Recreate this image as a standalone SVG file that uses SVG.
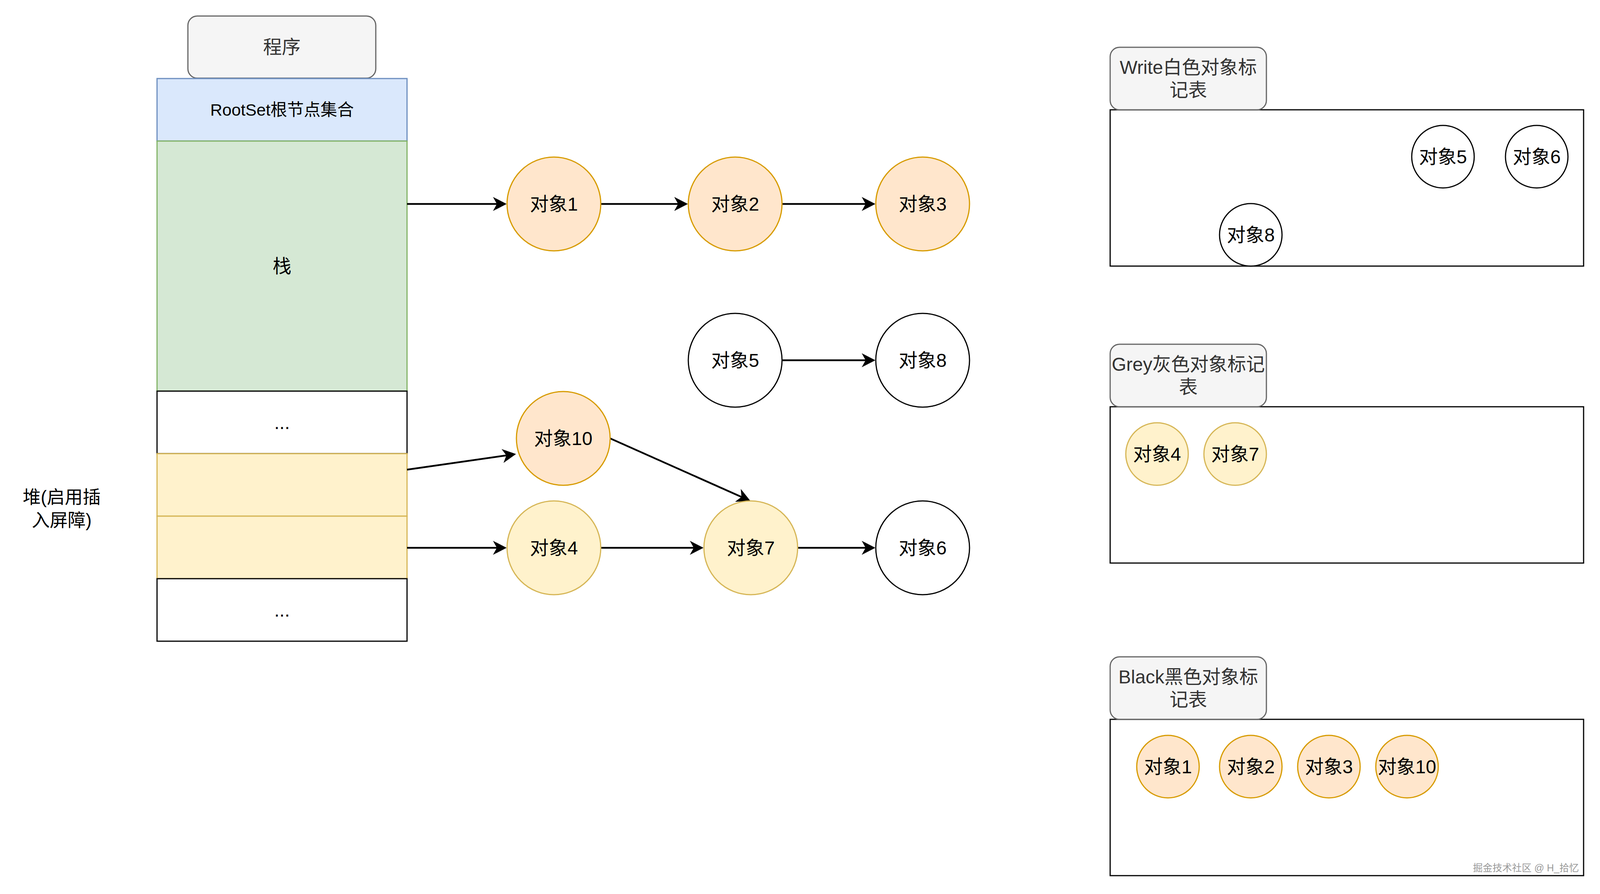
<svg xmlns="http://www.w3.org/2000/svg" width="4284" height="2288" viewBox="0 0 4284 2288">
<style>
text{font-family:"Liberation Sans","Noto Sans CJK SC",sans-serif;font-size:48px;text-anchor:middle;dominant-baseline:central;fill:#000}
.lbl{fill:#333}
.gray{fill:#f5f5f5;stroke:#666;stroke-width:3}
.blue{fill:#dae8fc;stroke:#6c8ebf;stroke-width:3}
.green{fill:#d5e8d4;stroke:#82b366;stroke-width:3}
.plain{fill:#fff;stroke:#000;stroke-width:3}
.yel{fill:#fff2cc;stroke:#d6b656;stroke-width:3}
.org{fill:#ffe6cc;stroke:#d79b00;stroke-width:3}
.edge{fill:none;stroke:#000;stroke-width:4.5}
</style>
<defs>
<marker id="arr" viewBox="0 0 35 36" refX="10" refY="18" markerWidth="35" markerHeight="36" markerUnits="userSpaceOnUse" orient="auto">
<path d="M0,0 L35,18 L0,36 L10,18 Z" fill="#000"/>
</marker>
</defs>
<rect width="4284" height="2288" fill="#fff"/>

<g id="program"><rect class="gray" x="481" y="41" width="481" height="159" rx="24"/><text class="lbl" x="721.5" y="120">程序</text></g>
<g id="rootset"><rect class="blue" x="402" y="201" width="640" height="160"/><text x="722" y="281" style="font-size:42.7px">RootSet根节点集合</text></g>
<g id="stack"><rect class="green" x="402" y="361" width="640" height="640"/><text x="722" y="681">栈</text></g>
<g id="heap-dots1"><rect class="plain" x="402" y="1001" width="640" height="160"/><text x="722" y="1081">...</text></g>
<g id="heap-slot1"><rect class="yel" x="402" y="1161" width="640" height="160"/></g>
<g id="heap-slot2"><rect class="yel" x="402" y="1321" width="640" height="160"/></g>
<g id="heap-dots2"><rect class="plain" x="402" y="1481" width="640" height="160"/><text x="722" y="1561">...</text></g>
<g id="heap-label"><text x="158" y="1272" style="font-size:46px">堆(启用插</text><text x="158" y="1331" style="font-size:46px">入屏障)</text></g>

<g id="connectors">
<path class="edge" d="M1042,522 L1272,522" marker-end="url(#arr)"/>
<path class="edge" d="M1538,522 L1736,522" marker-end="url(#arr)"/>
<path class="edge" d="M2002,522 L2216,522" marker-end="url(#arr)"/>
<path class="edge" d="M2002,922 L2216,922" marker-end="url(#arr)"/>
<path class="edge" d="M1042,1202 L1296.3,1165.5" marker-end="url(#arr)"/>
<path class="edge" d="M1562,1122 L1898.2,1271.8" marker-end="url(#arr)"/>
<path class="edge" d="M1042,1402 L1272,1402" marker-end="url(#arr)"/>
<path class="edge" d="M1538,1402 L1776,1402" marker-end="url(#arr)"/>
<path class="edge" d="M2042,1402 L2216,1402" marker-end="url(#arr)"/>
</g>

<g id="obj1"><circle class="org" cx="1418" cy="522" r="120"/><text x="1418" y="522">对象1</text></g>
<g id="obj2"><circle class="org" cx="1882" cy="522" r="120"/><text x="1882" y="522">对象2</text></g>
<g id="obj3"><circle class="org" cx="2362" cy="522" r="120"/><text x="2362" y="522">对象3</text></g>
<g id="obj5"><circle class="plain" cx="1882" cy="922" r="120"/><text x="1882" y="922">对象5</text></g>
<g id="obj8"><circle class="plain" cx="2362" cy="922" r="120"/><text x="2362" y="922">对象8</text></g>
<g id="obj10"><circle class="org" cx="1442" cy="1122" r="120"/><text x="1442" y="1122">对象10</text></g>
<g id="obj4"><circle class="yel" cx="1418" cy="1402" r="120"/><text x="1418" y="1402">对象4</text></g>
<g id="obj7"><circle class="yel" cx="1922" cy="1402" r="120"/><text x="1922" y="1402">对象7</text></g>
<g id="obj6"><circle class="plain" cx="2362" cy="1402" r="120"/><text x="2362" y="1402">对象6</text></g>

<g id="white-table">
<rect class="plain" x="2842" y="281" width="1212" height="400"/>
<rect class="gray" x="2842" y="121" width="400" height="160" rx="24"/>
<text class="lbl" x="3042" y="172">Write白色对象标</text><text class="lbl" x="3042" y="230">记表</text>
<circle class="plain" cx="3694" cy="401" r="80"/><text x="3694" y="401">对象5</text>
<circle class="plain" cx="3934" cy="401" r="80"/><text x="3934" y="401">对象6</text>
<circle class="plain" cx="3202" cy="601" r="80"/><text x="3202" y="601">对象8</text>
</g>

<g id="grey-table">
<rect class="plain" x="2842" y="1041" width="1212" height="400"/>
<rect class="gray" x="2842" y="881" width="400" height="160" rx="24"/>
<text class="lbl" x="3042" y="932">Grey灰色对象标记</text><text class="lbl" x="3042" y="990">表</text>
<circle class="yel" cx="2962" cy="1162" r="80"/><text x="2962" y="1162">对象4</text>
<circle class="yel" cx="3162" cy="1162" r="80"/><text x="3162" y="1162">对象7</text>
</g>

<g id="black-table">
<rect class="plain" x="2842" y="1841" width="1212" height="400"/>
<rect class="gray" x="2842" y="1681" width="400" height="160" rx="24"/>
<text class="lbl" x="3042" y="1732">Black黑色对象标</text><text class="lbl" x="3042" y="1790">记表</text>
<circle class="org" cx="2990" cy="1962" r="80"/><text x="2990" y="1962">对象1</text>
<circle class="org" cx="3202" cy="1962" r="80"/><text x="3202" y="1962">对象2</text>
<circle class="org" cx="3402" cy="1962" r="80"/><text x="3402" y="1962">对象3</text>
<circle class="org" cx="3602" cy="1962" r="80"/><text x="3602" y="1962">对象10</text>
</g>

<g id="watermark"><text x="4042" y="2221" style="font-size:25px;text-anchor:end;fill:#999">掘金技术社区 @ H_拾忆</text></g>
</svg>
